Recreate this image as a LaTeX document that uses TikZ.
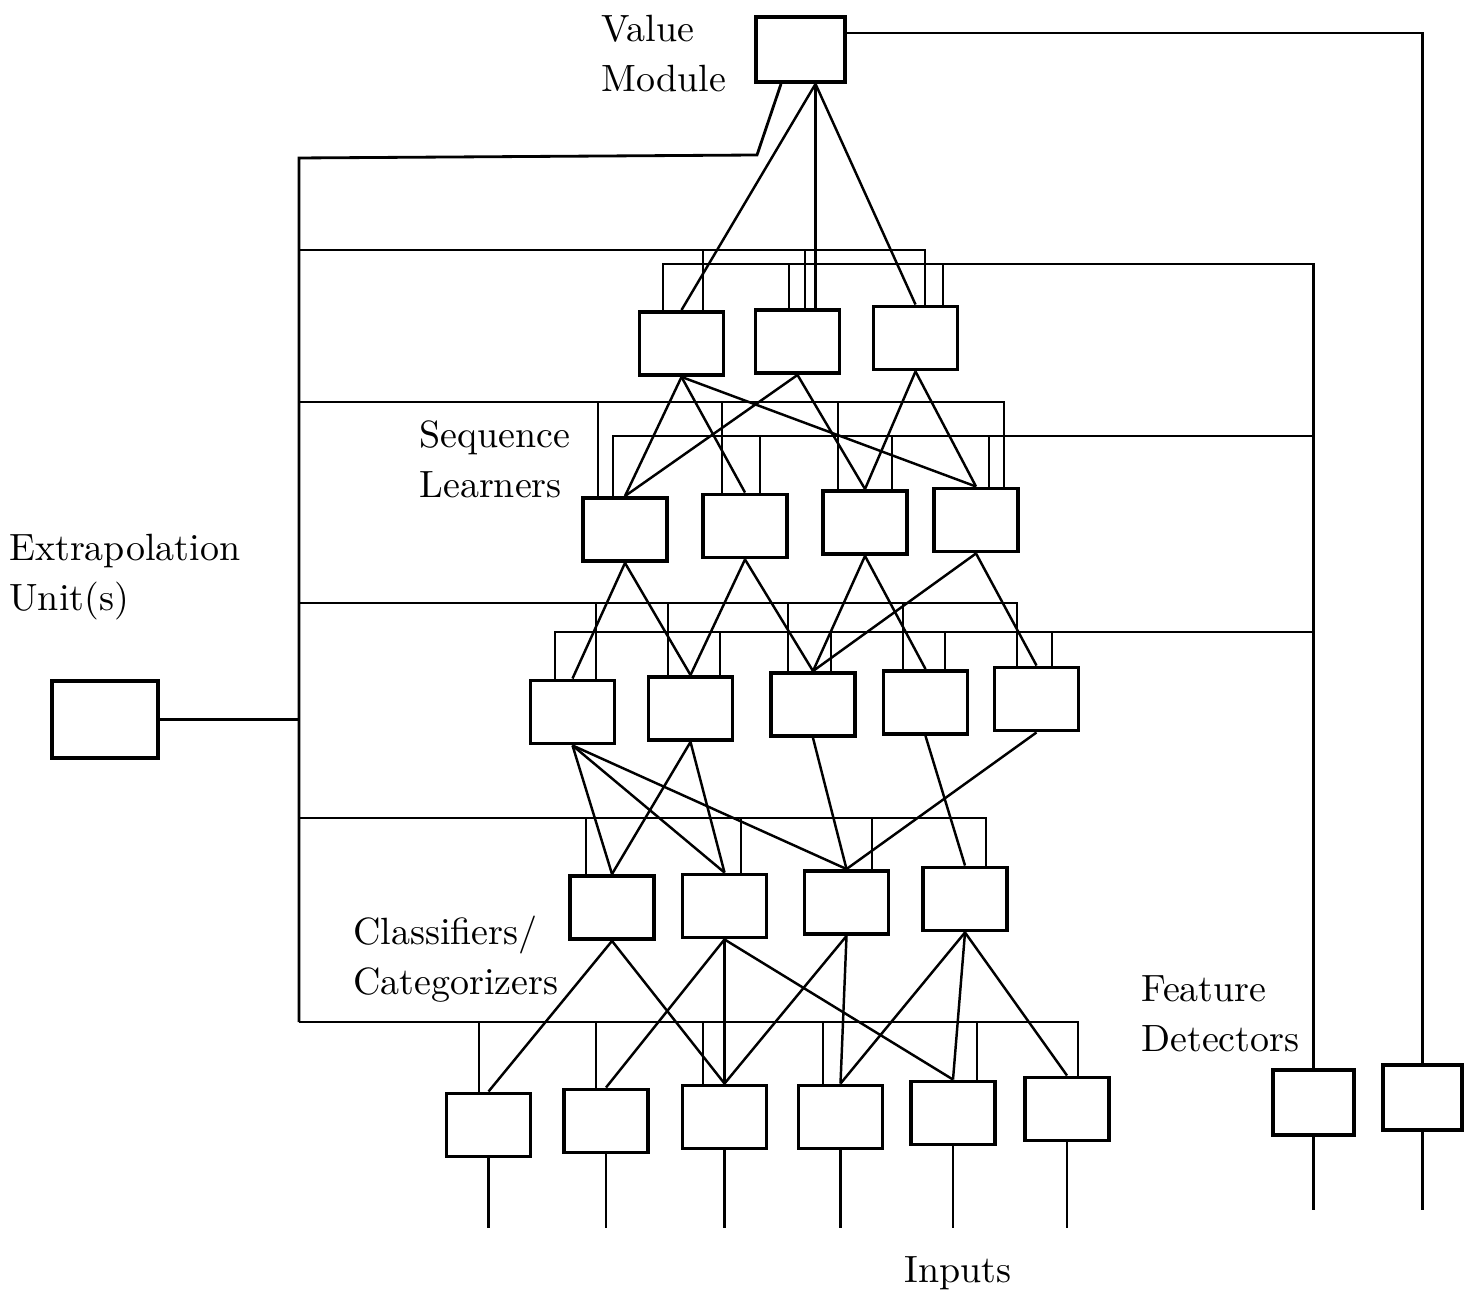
\documentclass[tikz,border=0pt]{standalone}
\usepackage{tikz}

\begin{document}
\begin{tikzpicture}[
  x=0.01cm, y=-0.01cm,
  thick,
  mybox/.style={
    draw,
    rectangle,
    line width=1.1pt,
    inner sep=0pt,
    minimum width=0.84cm,
    minimum height=0.63cm
    },
  mywire/.style={line width=0.7pt},
  mylabel/.style={
    anchor=north west,
    align=left,
    inner sep=0pt,
    font=\fontsize{10.8}{14.2}\selectfont
    }
]
\useasboundingbox (0,0) rectangle (1473,1298);

% units
\node[mybox, minimum width=0.89cm, minimum height=0.65cm] (vm) at (800.5,49.5) {};
\node[mybox, minimum width=1.06cm, minimum height=0.77cm] (extra) at (105,719.5) {};

\foreach \n/\x/\y in {a/681.5/343.5, b/797.5/341.5, c/915.5/338}
  \node[mybox] (s1\n) at (\x,\y) {};
\foreach \n/\x/\y in {a/625/529.5, b/745/526, c/865/522.5, d/976/520}
  \node[mybox] (s2\n) at (\x,\y) {};
\foreach \n/\x/\y in {a/572.5/712, b/690.5/708.5, c/813/704.5, d/925.5/702.5, e/1036.5/699}
  \node[mybox] (c1\n) at (\x,\y) {};
\foreach \n/\x/\y in {a/612/907.5, b/724.5/906, c/846.5/902.5, d/965/899}
  \node[mybox] (c2\n) at (\x,\y) {};
\foreach \n/\x/\y in {a/488.5/1125, b/606/1121, c/724.5/1117, d/840.5/1117, e/953/1113, f/1067/1109}
  \node[mybox] (fd\n) at (\x,\y) {};
\node[mybox, minimum width=0.81cm, minimum height=0.65cm] (fx1) at (1313.5,1102.5) {};
\node[mybox, minimum width=0.79cm, minimum height=0.65cm] (fx2) at (1422.5,1097.5) {};

% labels
\node[mylabel] (vmlabel) at (600,14) {Value\\Module};
\node[mylabel] (seqlabel) at (418,419) {Sequence\\Learners};
\node[mylabel] (extralabel) at (8,533) {Extrapolation\\Unit(s)};
\node[mylabel] (clslabel) at (352,915) {Classifiers/\\Categorizers};
\node[mylabel] (fdlabel) at (1140,974) {Feature\\Detectors};
\node[mylabel] (inlabel) at (903,1255) {Inputs};

% value module wires
\coordinate (vmtip) at ([xshift=0.15cm]vm.south);
\coordinate (vmbend) at (757,155);
\coordinate (busA) at (299,250);
\coordinate (busC) at (299,402);
\coordinate (busE) at (299,603);
\coordinate (busG) at (299,818);
\coordinate (busH) at (299,1022);
\draw (781,0 |- vm.south) -- (vmbend) -- (299,158) -- (busH);
\draw (vm.east |- 0,33) -| (fx2.north);
\draw (extra.east) -- (extra.east -| busH);
\draw[mywire] (vmtip) -- (s1a.north);
\draw[mywire] (vmtip) -- (vmtip |- s1b.north);
\draw[mywire] (vmtip) -- (s1c.north);

% buses
\coordinate (busB) at (fx1.north |- 0,264);
\coordinate (busD) at (fx1.north |- 0,436);
\coordinate (busF) at (fx1.north |- 0,632);

\draw (busA) -| (925,0 |- s1c.north);
\foreach \x/\n in {703/a, 805/b}
  \draw (\x,0 |- s1\n.north) -- (\x,0 |- busA);
\draw (663,0 |- s1a.north) |- (busB) -- (fx1.north);
\foreach \x/\n in {789/b, 943/c}
  \draw (\x,0 |- s1\n.north) -- (\x,0 |- busB);

\draw (busC) -| (1004,0 |- s2d.north);
\foreach \x/\n in {598/a, 722/b, 838/c}
  \draw (\x,0 |- s2\n.north) -- (\x,0 |- busC);
\draw (613,0 |- s2a.north) |- (busD);
\foreach \x/\n in {760/b, 892/c, 989/d}
  \draw (\x,0 |- s2\n.north) -- (\x,0 |- busD);

\draw (busE) -| (1017,0 |- c1e.north);
\foreach \x/\n in {596/a, 668/b, 788/c, 903/d}
  \draw (\x,0 |- c1\n.north) -- (\x,0 |- busE);
\draw (555,0 |- c1a.north) |- (busF);
\foreach \x/\n in {720/b, 831/c, 945/d, 1052/e}
  \draw (\x,0 |- c1\n.north) -- (\x,0 |- busF);

\draw (busG) -| (986,0 |- c2d.north);
\foreach \x/\n in {586/a, 741/b, 872/c}
  \draw (\x,0 |- c2\n.north) -- (\x,0 |- busG);

\draw (busH) -| (1078,0 |- fdf.north);
\foreach \x/\n in {479/a, 596/b, 703/c, 823/d, 977/e}
  \draw (\x,0 |- fd\n.north) -- (\x,0 |- busH);

% layer to layer
\foreach \a/\b in {a/a, a/b, a/d, b/a, b/c, c/c, c/d}
  \draw[mywire] (s1\a.south) -- (s2\b.north);
\foreach \a/\b in {a/a, a/b, b/b, b/c, c/c, c/d, d/c, d/e}
  \draw[mywire] (s2\a.south) -- (c1\b.north);
\foreach \a/\b in {a/a, a/b, a/c, b/a, b/b, c/c, d/d, e/c}
  \draw[mywire] (c1\a.south) -- (c2\b.north);
\foreach \a/\b in {a/a, a/c, b/b, b/c, b/e, c/c, c/d, d/d, d/e, d/f}
  \draw[mywire] (c2\a.south) -- (fd\b.north);

% inputs
\coordinate (inbot) at (0,1228);
\coordinate (fxbot) at (0,1210);
\foreach \n in {a,b,c,d,e,f}
  \draw (fd\n.south) -- (fd\n.south |- inbot);
\foreach \n in {1,2}
  \draw (fx\n.south) -- (fx\n.south |- fxbot);
\end{tikzpicture}
\end{document}
